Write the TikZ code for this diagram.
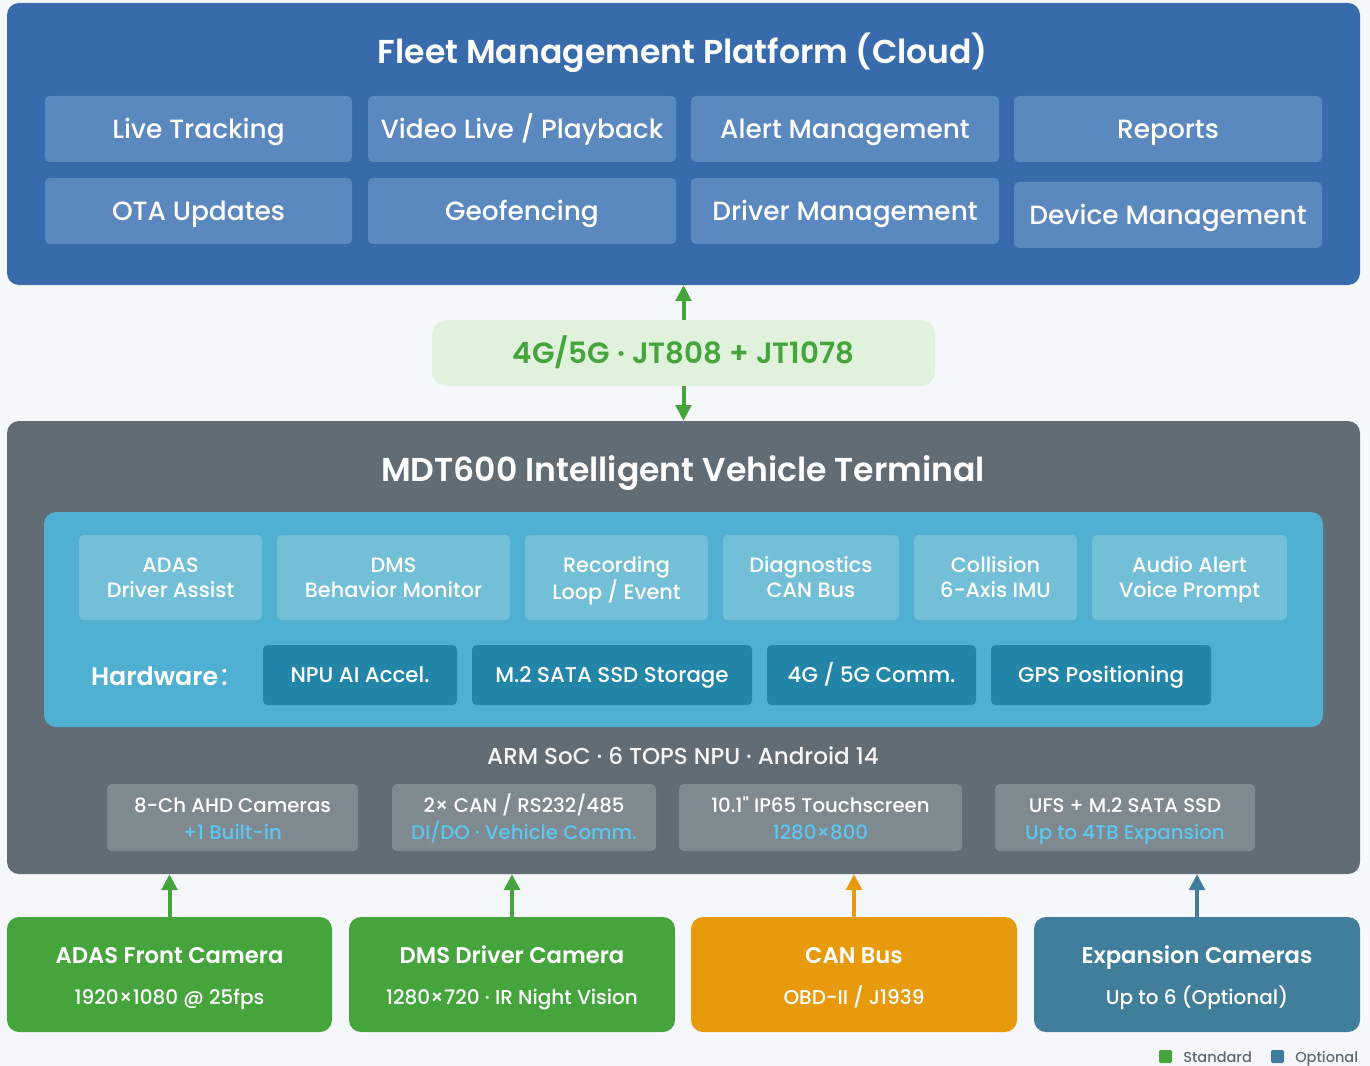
\documentclass[tikz,border=0pt]{standalone}
\usepackage{fontspec}
\setmainfont{Poppins}
\newfontfamily\pmed{Poppins}[UprightFont=* Medium]
\newfontfamily\psemi{Poppins}[UprightFont=* SemiBold]
\newfontfamily\cjk{Noto Sans CJK SC}
\usetikzlibrary{arrows.meta}
\definecolor{bgc}{HTML}{F6F7FA}
\definecolor{cloudc}{HTML}{386BAC}
\definecolor{modc}{HTML}{5B88BE}
\definecolor{bandc}{HTML}{E0F2DC}
\definecolor{greenc}{HTML}{45A53C}
\definecolor{termc}{HTML}{616C75}
\definecolor{cyanc}{HTML}{4FB0D1}
\definecolor{funcc}{HTML}{74BFD8}
\definecolor{hwc}{HTML}{2386A8}
\definecolor{grayc}{HTML}{7F8990}
\definecolor{ltblue}{HTML}{5CC8F0}
\definecolor{orangec}{HTML}{E69A0C}
\definecolor{tealc}{HTML}{417E9B}
\definecolor{legc}{HTML}{5F6A73}
\newcommand\fsz[2]{\fontsize{#1}{#2}\selectfont}
\newcommand\two[2]{\begin{tabular}[t]{@{}c@{}}#1\\#2\end{tabular}}
\newcommand\bx[7]{\node[#2, minimum width={(#5-#3)*0.75pt}, minimum height={(#6-#4)*0.75pt}] (#1) at ({(#3+#5)/2},{(#4+#6)/2}) {#7};}
\tikzset{
  base/.style={inner sep=0pt, outer sep=0pt, align=center, text=white},
  cloudbox/.style={base, fill=cloudc, rounded corners=9pt},
  modbox/.style={base, fill=modc, rounded corners=3.5pt, font=\pmed\fsz{19.8pt}{24pt}, text height=13.8pt, text depth=0pt},
  bandbox/.style={base, fill=bandc, rounded corners=11pt, text=greenc, font=\psemi\fsz{22pt}{26pt}, text height=15.4pt, text depth=0pt},
  termbox/.style={base, fill=termc, rounded corners=9pt},
  cyanbox/.style={base, fill=cyanc, rounded corners=9pt},
  funcbox/.style={base, fill=funcc, rounded corners=3.5pt, font=\pmed\fsz{15.6pt}{18.75pt}, text height=10.9pt, text depth=18.75pt},
  hwbox/.style={base, fill=hwc, rounded corners=3.5pt, font=\pmed\fsz{16pt}{19pt}, text height=11.2pt, text depth=0pt},
  graybox/.style={base, fill=grayc, rounded corners=3.5pt, font=\pmed\fsz{14.8pt}{20.25pt}, text height=13.4pt, text depth=20.25pt},
  srcbox/.style={base, rounded corners=9pt, font=\pmed\fsz{15pt}{30.75pt}, text height=14.9pt, text depth=30.75pt},
  titletext/.style={base, font=\psemi\fsz{24.8pt}{28pt}, text height=17.4pt, text depth=0pt},
  flow/.style={line width=3pt, -{Triangle[width=11.5pt,length=12pt]}},
  legsq/.style={inner sep=0pt, outer sep=0pt, minimum size=9.75pt, rounded corners=1pt},
  legtext/.style={inner sep=0pt, anchor=west, text=legc, font=\pmed\fsz{10.9pt}{13pt}, text height=7.6pt, text depth=0pt},
}
\newcommand\st[1]{{\psemi\fontsize{17pt}{30.75pt}\selectfont #1}}
\begin{document}
\begin{tikzpicture}[x=0.75pt,y=-0.75pt]
\fill[bgc] (0,0) rectangle (1370,1066);
\useasboundingbox (0,0) rectangle (1370,1066);
% cloud
\bx{cloud}{cloudbox}{7}{3}{1360}{285}{}
\node[titletext] (cloudt) at (683,52) {Fleet Management Platform (Cloud)};
\bx{m1}{modbox}{45}{96}{352}{162}{Live Tracking}
\bx{m2}{modbox}{368}{96}{676}{162}{Video Live / Playback}
\bx{m3}{modbox}{691}{96}{999}{162}{Alert Management}
\bx{m4}{modbox}{1014}{96}{1322}{162}{Reports}
\bx{m5}{modbox}{45}{178}{352}{244}{OTA Updates}
\bx{m6}{modbox}{368}{178}{676}{244}{Geofencing}
\bx{m7}{modbox}{691}{178}{999}{244}{Driver Management}
\bx{m8}{modbox}{1014}{182}{1322}{248}{Device Management}
% band
\bx{band}{bandbox}{432}{320}{935}{386}{4G/5G · JT808 + JT1078}
% terminal
\bx{term}{termbox}{7}{421}{1360}{874}{}
\node[titletext] (termt) at (683,470) {MDT600 Intelligent Vehicle Terminal};
\bx{cyan}{cyanbox}{44}{512}{1323}{727}{}
\bx{f1}{funcbox}{79}{535}{262}{620}{\two{ADAS}{Driver Assist}}
\bx{f2}{funcbox}{277}{535}{510}{620}{\two{DMS}{Behavior Monitor}}
\bx{f3}{funcbox}{525}{535}{708}{620}{\two{Recording}{Loop / Event}}
\bx{f4}{funcbox}{723}{535}{899}{620}{\two{Diagnostics}{CAN Bus}}
\bx{f5}{funcbox}{914}{535}{1077}{620}{\two{Collision}{6-Axis IMU}}
\bx{f6}{funcbox}{1092}{535}{1287}{620}{\two{Audio Alert}{Voice Prompt}}
\node[base, anchor=west, font=\psemi\fsz{19pt}{22pt}, text height=13.3pt, text depth=0pt] (hwl) at (91,677) {Hardware{\cjk ：}};
\bx{h1}{hwbox}{263}{645}{457}{705}{NPU AI Accel.}
\bx{h2}{hwbox}{472}{645}{752}{705}{M.2 SATA SSD Storage}
\bx{h3}{hwbox}{767}{645}{976}{705}{4G / 5G Comm.}
\bx{h4}{hwbox}{991}{645}{1211}{705}{GPS Positioning}
\node[base, text=white!94!termc, font=\pmed\fsz{17.3pt}{20pt}, text height=12.1pt, text depth=0pt] (soc) at (683,756) {ARM SoC · 6 TOPS NPU · Android 14};
\bx{g1}{graybox}{107}{784}{358}{851}{\two{8-Ch AHD Cameras}{\textcolor{ltblue}{+1 Built-in}}}
\bx{g2}{graybox}{392}{784}{656}{851}{\two{2× CAN / RS232/485}{\textcolor{ltblue}{DI/DO · Vehicle Comm.}}}
\bx{g3}{graybox}{679}{784}{962}{851}{\two{10.1" IP65 Touchscreen}{\textcolor{ltblue}{1280×800}}}
\bx{g4}{graybox}{995}{784}{1255}{851}{\two{UFS + M.2 SATA SSD}{\textcolor{ltblue}{Up to 4TB Expansion}}}
% sources
\bx{s1}{srcbox, fill=greenc}{7}{917}{332}{1032}{\two{\st{ADAS Front Camera}}{1920×1080 @ 25fps}}
\bx{s2}{srcbox, fill=greenc}{349}{917}{675}{1032}{\two{\st{DMS Driver Camera}}{1280×720 · IR Night Vision}}
\bx{s3}{srcbox, fill=orangec}{691}{917}{1017}{1032}{\two{\st{CAN Bus}}{OBD-II / J1939}}
\bx{s4}{srcbox, fill=tealc}{1034}{917}{1360}{1032}{\two{\st{Expansion Cameras}}{Up to 6 (Optional)}}
% connectors
\draw[flow, greenc] (band.north) -- (band.north |- cloud.south);
\draw[flow, greenc] (band.south) -- (band.south |- term.north);
\draw[flow, greenc] (s1.north) -- (s1.north |- term.south);
\draw[flow, greenc] (s2.north) -- (s2.north |- term.south);
\draw[flow, orangec] (s3.north) -- (s3.north |- term.south);
\draw[flow, tealc] (s4.north) -- (s4.north |- term.south);
% legend
\node[legsq, fill=greenc] (lg1) at (1165.5,1056.5) {};
\node[legtext] (lt1) at (1183,1057) {Standard};
\node[legsq, fill=tealc] (lg2) at (1277.5,1056.5) {};
\node[legtext] (lt2) at (1295,1057) {Optional};
\end{tikzpicture}
\end{document}
